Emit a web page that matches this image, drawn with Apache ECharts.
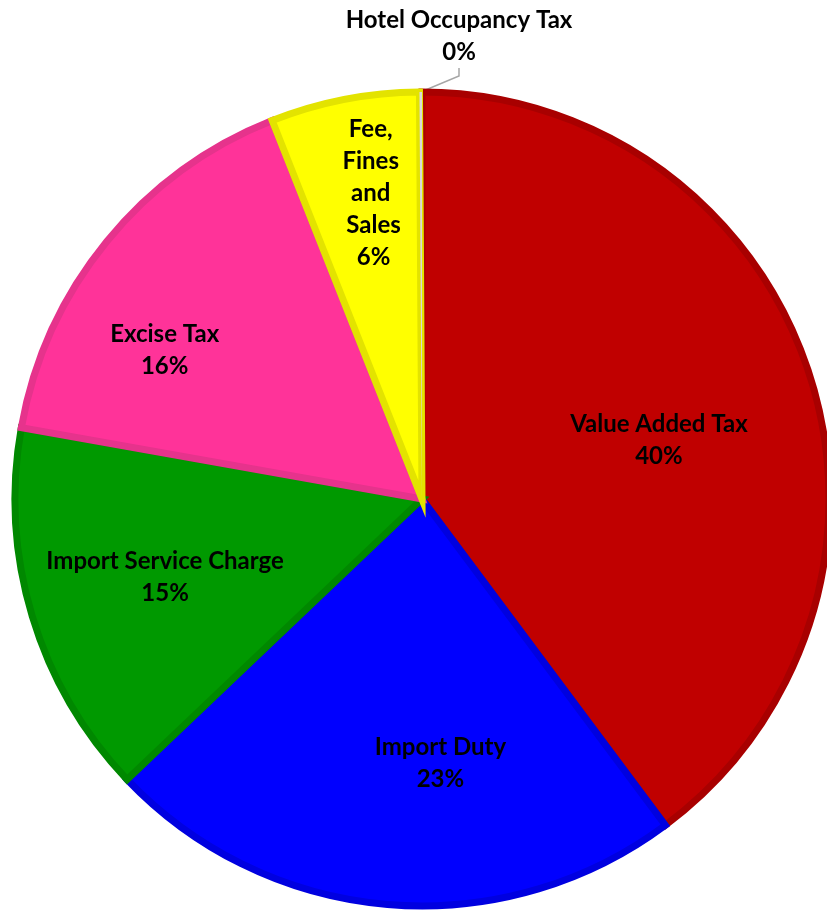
<!DOCTYPE html>
<html>
<head>
<meta charset="utf-8">
<script src="https://cdn.jsdelivr.net/npm/echarts@6/dist/echarts.min.js"></script>
<style>
  html, body { margin: 0; padding: 0; background: #fff; }
</style>
</head>
<body>
<div id="chart" style="width: 827px; height: 911px;"></div>
<script>
// revenue shares (percent)
const categories = ['Value Added Tax', 'Import Duty', 'Import Service Charge', 'Excise Tax', 'Fee, Fines and Sales', 'Hotel Occupancy Tax'];
const shares = [39.8, 23.1, 14.9, 16.2, 5.9, 0.1];

// styling per slice
const fillColors = ['#C00000', '#0000FF', '#009900', '#FF3399', '#FFFF00', '#D9D9D9'];
const edgeColors = ['#A80000', '#0000E0', '#008800', '#E6338C', '#E3E300', '#D9D9D9'];
// where the inside labels sit: angle from 12 o'clock (deg, clockwise) and fraction of radius
const labelAngle = [76, 176, 253, 300, 351];
const labelFrac = [0.60, 0.65, 0.66, 0.73, 0.76];

const cx = 422, cy = 499, R = 407;

const chart = echarts.init(document.getElementById('chart'));

const data = categories.map((name, i) => {
  const item = {
    name: name,
    value: shares[i],
    itemStyle: { color: fillColors[i], borderColor: edgeColors[i] }
  };
  if (i === 4) {
    item.label = { width: 70, overflow: 'break' };
  }
  if (i === 5) {
    item.itemStyle.borderWidth = 0;
    item.label = { position: 'outside' };
    item.labelLine = { show: true, length: 12, length2: 8, lineStyle: { color: '#A6A6A6', width: 1.5 } };
  }
  return item;
});

chart.setOption({
  backgroundColor: '#fff',
  animation: false,
  series: [
    {
      type: 'pie',
      center: [cx, cy],
      radius: [0, R],
      startAngle: 90,
      clockwise: true,
      avoidLabelOverlap: false,
      data: data,
      itemStyle: { borderWidth: 7, borderJoin: 'miter' },
      label: {
        show: true,
        position: 'inside',
        formatter: p => p.name + '\n' + Math.round(p.value) + '%',
        fontFamily: 'Lato',
        fontWeight: 'bold',
        fontSize: 24,
        lineHeight: 32,
        color: '#000',
        align: 'center'
      },
      labelLine: { show: false },
      labelLayout: function (params) {
        const i = params.dataIndex;
        if (i === 5) {
          return { x: 459, y: 36, align: 'center', verticalAlign: 'middle' };
        }
        const a = labelAngle[i] * Math.PI / 180;
        const d = labelFrac[i] * R;
        return {
          x: cx + Math.sin(a) * d,
          y: cy - Math.cos(a) * d,
          align: 'center',
          verticalAlign: 'middle'
        };
      }
    }
  ]
});
</script>
</body>
</html>
